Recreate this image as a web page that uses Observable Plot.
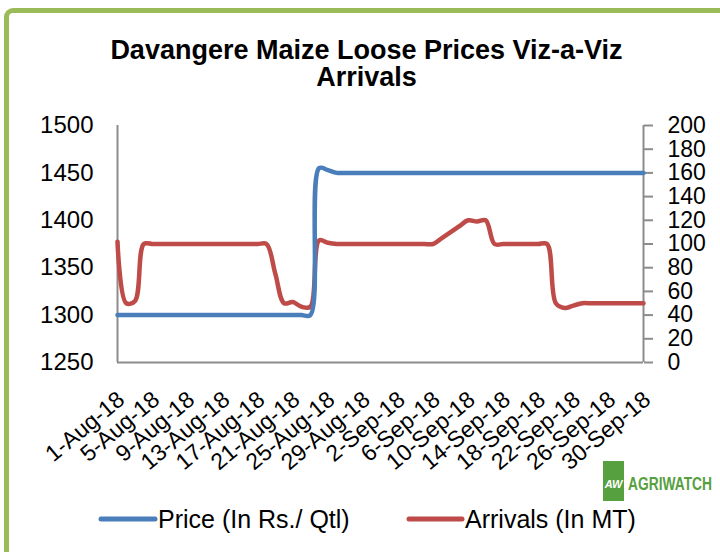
<!DOCTYPE html>
<html>
<head>
<meta charset="utf-8">
<script src="https://cdn.jsdelivr.net/npm/d3@7"></script>
<script src="https://cdn.jsdelivr.net/npm/@observablehq/plot@0.6"></script>
<style>
html, body { margin: 0; padding: 0; background: #fff; }
#wrap { position: relative; width: 720px; height: 552px; overflow: hidden; background: #fff;
        font-family: "Liberation Sans", Arial, sans-serif; color: #000; }
#frame { position: absolute; left: 4px; top: 8px; width: 800px; height: 700px;
         border: 5px solid #9BBB59; border-radius: 9px; box-sizing: border-box; }
#title { position: absolute; left: 0; top: 37px; width: 733px; text-align: center;
         font-weight: bold; font-size: 27px; line-height: 27px; }
#chart { position: absolute; left: 0; top: 100px; }
#legend { position: absolute; left: 0; top: 498px; }
#logo { position: absolute; left: 600px; top: 458px; }
</style>
</head>
<body>
<div id="wrap">
  <div id="frame"></div>
  <div id="title">Davangere Maize Loose Prices Viz-a-Viz<br>Arrivals</div>
  <div id="chart"></div>
  <svg id="legend" width="720" height="44" font-family="Liberation Sans, Arial, sans-serif">
    <line x1="101" x2="155" y1="21" y2="21" stroke="#4A7EBB" stroke-width="5" stroke-linecap="round"/>
    <text x="158" y="30" font-size="25" fill="#000">Price (In Rs./ Qtl)</text>
    <line x1="409" x2="462" y1="21" y2="21" stroke="#BE4B48" stroke-width="5" stroke-linecap="round"/>
    <text x="465" y="30" font-size="25" fill="#000">Arrivals (In MT)</text>
  </svg>
  <svg id="logo" width="116" height="48" font-family="Liberation Sans, Arial, sans-serif">
    <rect x="3" y="3" width="21" height="40" fill="#57A03F"/>
    <text x="13.5" y="30" text-anchor="middle" font-size="11" font-weight="bold" font-style="italic" fill="#fff">AW</text>
    <text transform="translate(28,31.5) scale(1,1.35)" x="0" y="0" font-size="13.8" font-weight="bold" fill="#57A03F">AGRIWATCH</text>
  </svg>
</div>
<script>
// ---- data ----
const startDate = "2018-08-01";
const endDate = "2018-09-30";

// Price (In Rs./ Qtl), one value per day, 1-Aug-18 .. 30-Sep-18
const price = [
  1300, 1300, 1300, 1300, 1300, 1300, 1300, 1300, 1300, 1300,
  1300, 1300, 1300, 1300, 1300, 1300, 1300, 1300, 1300, 1300,
  1300, 1300, 1300, 1455, 1453, 1450, 1450, 1450, 1450, 1450,
  1450, 1450, 1450, 1450, 1450, 1450, 1450, 1450, 1450, 1450,
  1450, 1450, 1450, 1450, 1450, 1450, 1450, 1450, 1450, 1450,
  1450, 1450, 1450, 1450, 1450, 1450, 1450, 1450, 1450, 1450,
  1450
];

// Arrivals (In MT), one value per day, 1-Aug-18 .. 30-Sep-18
const arrivals = [
  102, 50, 52, 100, 100, 100, 100, 100, 100, 100,
  100, 100, 100, 100, 100, 100, 100, 100, 75, 50,
  51, 47, 47, 103, 101, 100, 100, 100, 100, 100,
  100, 100, 100, 100, 100, 100, 100, 105, 110, 115,
  120, 119, 120, 100, 100, 100, 100, 100, 100, 100,
  50, 46, 48, 50, 50, 50, 50, 50, 50, 50,
  50
];

const tickLabels = [
  "1-Aug-18", "5-Aug-18", "9-Aug-18", "13-Aug-18", "17-Aug-18", "21-Aug-18",
  "25-Aug-18", "29-Aug-18", "2-Sep-18", "6-Sep-18", "10-Sep-18", "14-Sep-18",
  "18-Sep-18", "22-Sep-18", "26-Sep-18", "30-Sep-18"
];
const priceTicks = [1250, 1300, 1350, 1400, 1450, 1500];
const arrivalTicks = [0, 20, 40, 60, 80, 100, 120, 140, 160, 180, 200];

// ---- build ----
const parseIso = d3.utcParse("%Y-%m-%d");
const parseLabel = d3.utcParse("%d-%b-%y");
const x0 = parseIso(startDate), x1 = parseIso(endDate);
const dates = d3.utcDay.range(x0, d3.utcDay.offset(x1, 1));
const rows = dates.map((d, i) => ({date: d, price: price[i], arrivals: arrivals[i]}));
const tickDates = tickLabels.map(parseLabel);
const labelByTime = new Map(tickDates.map((d, i) => [+d, tickLabels[i]]));

const priceDomain = [priceTicks[0], priceTicks[priceTicks.length - 1]];
const arrivalDomain = [arrivalTicks[0], arrivalTicks[arrivalTicks.length - 1]];
const toPrice = d3.scaleLinear(arrivalDomain, priceDomain);

const axisGray = "#8c8c8c";
const font = "Liberation Sans, Arial, sans-serif";

const chart = Plot.plot({
  width: 720,
  height: 380,
  marginLeft: 117,
  marginRight: 77,
  marginTop: 25,
  marginBottom: 118,
  style: {fontFamily: font, fontSize: "24px", color: "#000", background: "transparent", overflow: "visible"},
  x: {type: "utc", domain: [x0, x1], label: null},
  y: {domain: priceDomain, label: null},
  marks: [
    Plot.ruleY([priceDomain[0]], {stroke: axisGray, strokeWidth: 2}),
    Plot.ruleX([x0], {stroke: axisGray, strokeWidth: 2}),
    Plot.ruleX([x1], {stroke: axisGray, strokeWidth: 2}),
    Plot.axisY({anchor: "left", ticks: priceTicks, tickFormat: d => String(d),
                tickSize: 0, tickPadding: 24, fontSize: 24, label: null}),
    Plot.axisY({anchor: "right", ticks: arrivalTicks.map(v => toPrice(v)),
                tickFormat: d => String(Math.round(toPrice.invert(d))),
                tickSize: 9, tickPadding: 15, stroke: axisGray, strokeWidth: 2,
                fill: "#000", fontSize: 23, label: null}),
    Plot.axisX({ticks: tickDates, tickFormat: d => labelByTime.get(+d),
                tickSize: 0, tickRotate: -40, textAnchor: "end", lineAnchor: "top",
                tickPadding: 26, dx: -2, dy: 1, fontSize: 23, label: null}),
    Plot.line(rows, {x: "date", y: d => toPrice(d.arrivals), stroke: "#BE4B48",
                     strokeWidth: 4.5, curve: "catmull-rom", strokeLinecap: "round", strokeLinejoin: "round"}),
    Plot.line(rows, {x: "date", y: "price", stroke: "#4A7EBB",
                     strokeWidth: 4.5, curve: "catmull-rom", strokeLinecap: "round", strokeLinejoin: "round"})
  ]
});
document.getElementById("chart").appendChild(chart);
</script>
</body>
</html>
